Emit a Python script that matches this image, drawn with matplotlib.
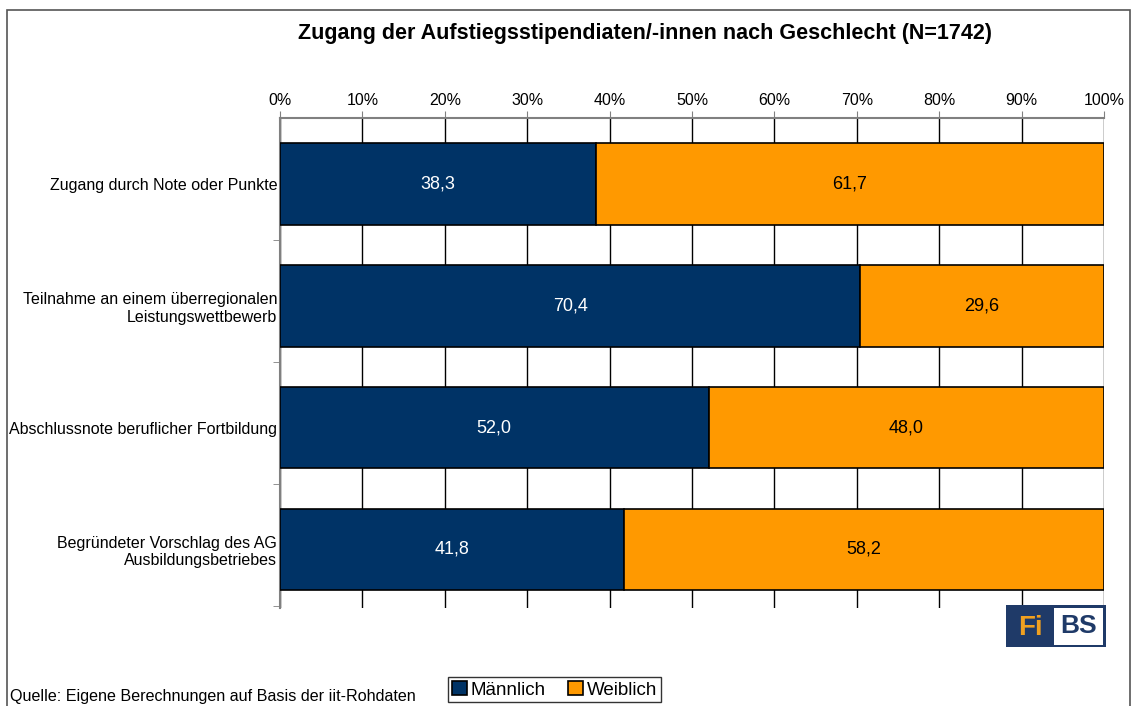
import matplotlib
matplotlib.use("Agg")
import matplotlib.pyplot as plt
import matplotlib.patches as mpatches
import numpy as np

plt.rcParams["font.family"] = ["Liberation Sans", "DejaVu Sans"]

CATEGORIES = [
    "Zugang durch Note oder Punkte",
    "Teilnahme an einem überregionalen\nLeistungswettbewerb",
    "Abschlussnote beruflicher Fortbildung",
    "Begründeter Vorschlag des AG\nAusbildungsbetriebes",
]
MAENNLICH = [38.3, 70.4, 52.0, 41.8]
WEIBLICH = [61.7, 29.6, 48.0, 58.2]
X_TICKS = [0, 10, 20, 30, 40, 50, 60, 70, 80, 90, 100]

NAVY = "#003366"
ORANGE = "#FF9900"

fig = plt.figure(figsize=(11.37, 7.06), dpi=100)
ax = fig.add_axes([0.2463, 0.1388, 0.7247, 0.6941])

y = np.arange(len(CATEGORIES))
h = 0.67
bm = ax.barh(y, MAENNLICH, height=h, color=NAVY, edgecolor="black", lw=1.2,
             label="Männlich", zorder=3)
bw = ax.barh(y, WEIBLICH, left=MAENNLICH, height=h, color=ORANGE,
             edgecolor="black", lw=1.2, label="Weiblich", zorder=3)

for i in range(len(CATEGORIES)):
    ax.text(MAENNLICH[i] / 2, y[i], f"{MAENNLICH[i]:.1f}".replace(".", ","),
            ha="center", va="center", color="white", fontsize=13, zorder=4)
    ax.text(MAENNLICH[i] + WEIBLICH[i] / 2, y[i],
            f"{WEIBLICH[i]:.1f}".replace(".", ","),
            ha="center", va="center", color="black", fontsize=13, zorder=4)

ax.set_xlim(0, 100)
ax.set_ylim(3.48, -0.54)
ax.xaxis.tick_top()
ax.set_xticks(X_TICKS)
ax.set_xticklabels([f"{t}%" for t in X_TICKS], fontsize=11.5)
ax.tick_params(axis="x", length=5, color="#808080", pad=2)
ax.grid(True, axis="x", color="black", lw=1, zorder=0)

ax.set_yticks(y)
ax.set_yticklabels(CATEGORIES, fontsize=11.5, ha="right")
ax.tick_params(axis="y", length=0, pad=2)
ax.set_yticks(np.arange(len(CATEGORIES)) + 0.46, minor=True)
ax.tick_params(axis="y", which="minor", length=5, color="#808080")

for s in ["right", "bottom"]:
    ax.spines[s].set_visible(False)
for s in ["top", "left"]:
    ax.spines[s].set_color("#808080")
    ax.spines[s].set_linewidth(1.5)

fig.text(0.567, 0.953, "Zugang der Aufstiegsstipendiaten/-innen nach Geschlecht (N=1742)",
         ha="center", va="center", fontsize=15.5, fontweight="bold")

fig.legend(handles=[bm, bw], labels=["Männlich", "Weiblich"], loc="center",
           bbox_to_anchor=(0.488, 0.023), ncol=2, frameon=True, fancybox=False,
           edgecolor="black", fontsize=13.5, handlelength=0.8, handleheight=0.8,
           handletextpad=0.2, columnspacing=1.2, borderpad=0.2)

fig.text(0.009, 0.013, "Quelle: Eigene Berechnungen auf Basis der iit-Rohdaten",
         ha="left", va="center", fontsize=11.6)

# figure frame
fig.add_artist(mpatches.Rectangle((0.006, -0.01), 0.988, 0.996,
                                  transform=fig.transFigure, fill=False,
                                  edgecolor="#555555", lw=1.2))

# FiBS logo
lx, ly, lw_, lh = 0.885, 0.083, 0.088, 0.060
fig.add_artist(mpatches.Rectangle((lx, ly), lw_, lh, transform=fig.transFigure,
                                  facecolor="#1F3A68", edgecolor="none"))
fig.add_artist(mpatches.Rectangle((lx + 0.042, ly + 0.004), 0.043, lh - 0.008,
                                  transform=fig.transFigure, facecolor="white",
                                  edgecolor="none"))
fig.text(lx + 0.021, ly + lh / 2 - 0.003, "Fi", ha="center", va="center",
         color="#F0A020", fontsize=20, fontweight="bold")
fig.text(lx + 0.0635, ly + lh / 2, "BS", ha="center", va="center",
         color="#1F3A68", fontsize=19, fontweight="bold")

fig.savefig("out.png", dpi=100)
